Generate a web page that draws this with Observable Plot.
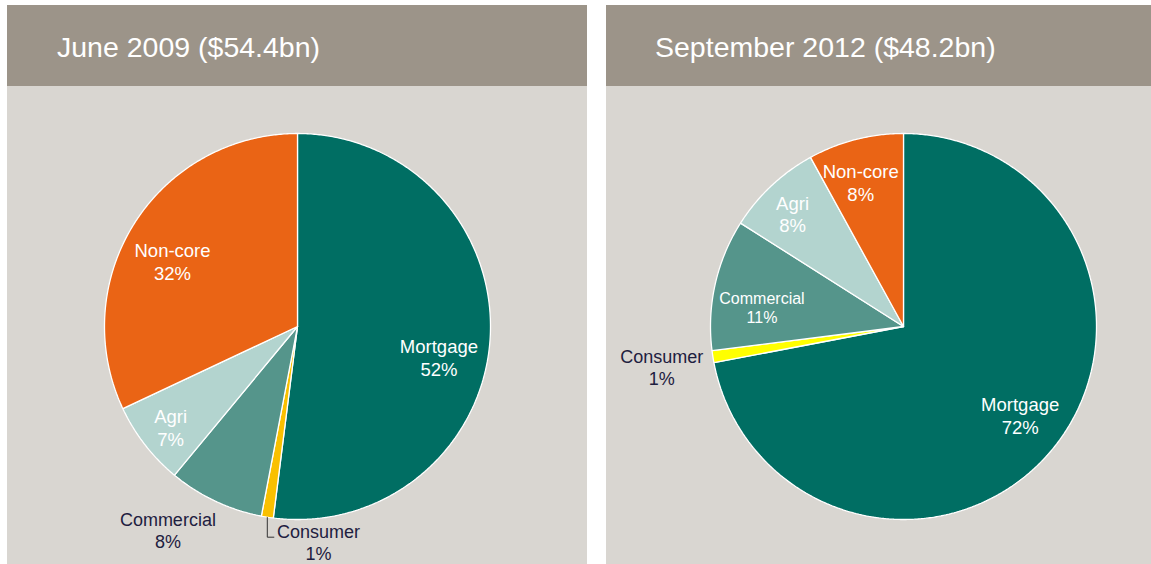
<!DOCTYPE html>
<html>
<head>
<meta charset="utf-8">
<script src="https://cdn.jsdelivr.net/npm/d3@7"></script>
<script src="https://cdn.jsdelivr.net/npm/@observablehq/plot@0.6"></script>
<style>
  html, body { margin: 0; padding: 0; background: #ffffff; }
  body { position: relative; width: 1151px; height: 564px; overflow: hidden; font-family: "Liberation Sans", Arial, sans-serif; }
  .panel { position: absolute; top: 5px; }
  .header { height: 81px; background: #9c9489; color: #ffffff; font-size: 28.5px; line-height: 84px; white-space: nowrap; }
  .body { background: #d9d6d1; height: 478px; }
  .body svg { display: block; }
</style>
</head>
<body>
<div id="p1" class="panel" style="left:7px;width:580px;">
  <div class="header" style="padding-left:50px;"></div>
  <div class="body"></div>
</div>
<div id="p2" class="panel" style="left:606px;width:545px;">
  <div class="header" style="padding-left:49px;"></div>
  <div class="body"></div>
</div>
<script>
// ---- data ----
const categories = ["Mortgage", "Consumer", "Commercial", "Agri", "Non-core"];
const june2009 = [52, 1, 8, 7, 32];
const sept2012 = [72, 1, 11, 8, 8];
const titles = ["June 2009 ($54.4bn)", "September 2012 ($48.2bn)"];

// ---- styles ----
const sliceColors2009 = ["#006e63", "#f9c000", "#55958b", "#b3d4cf", "#ea6415"];
const sliceColors2012 = ["#006e63", "#ffff00", "#55958b", "#b3d4cf", "#ea6415"];
const darkText = "#1e2040";

// label placement: angle nudge (deg) from slice middle, radius fraction, inside?, font size
const layout2009 = [
  {nudge: 8.7, rho: 0.75, inside: true, size: 18.5},
  {nudge: -14.6, rho: 1.12, inside: false, size: 18, leader: true},
  {nudge: 7.3, rho: 1.25, inside: false, size: 18},
  {nudge: -0.7, rho: 0.84, inside: true, size: 18.5},
  {nudge: -4.9, rho: 0.73, inside: true, size: 18.5}
];
const layout2012 = [
  {nudge: -2.3, rho: 0.76, inside: true, size: 18.5},
  {nudge: -0.4, rho: 1.27, inside: false, size: 18},
  {nudge: -4.9, rho: 0.74, inside: true, size: 16},
  {nudge: -1.3, rho: 0.82, inside: true, size: 18.5},
  {nudge: -2.1, rho: 0.78, inside: true, size: 18.5}
];

function pieChart(values, colors, layout, width, cx, cy, r) {
  const height = 478;
  const total = d3.sum(values);
  let acc = 0;
  const slices = values.map((v, i) => {
    const a0 = acc / total * 360;
    acc += v;
    const a1 = acc / total * 360;
    return {name: categories[i], value: v, a0, a1, mid: (a0 + a1) / 2, color: colors[i]};
  });
  const rad = d => d * Math.PI / 180;
  const pt = (deg, rho) => ({x: rho * Math.sin(rad(deg)), y: rho * Math.cos(rad(deg))});

  const marks = [];
  slices.forEach(s => {
    const pts = [{x: 0, y: 0}];
    const n = Math.max(2, Math.ceil((s.a1 - s.a0) / 0.5));
    for (let k = 0; k <= n; k++) pts.push(pt(s.a0 + (s.a1 - s.a0) * k / n, 1));
    pts.push({x: 0, y: 0});
    marks.push(Plot.line(pts, {x: "x", y: "y", fill: s.color, stroke: "#ffffff", strokeWidth: 1.3, curve: "linear", strokeLinejoin: "miter"}));
  });

  const labels = slices.map((s, i) => {
    const L = layout[i];
    const p = pt(s.mid + L.nudge, L.rho);
    return {x: p.x, y: p.y, text: s.name + "\n" + s.value + "%", fill: L.inside ? "#ffffff" : darkText, size: L.size};
  });
  labels.forEach(l => {
    marks.push(Plot.text([l], {x: "x", y: "y", text: "text", fill: l.fill, fontSize: l.size, lineHeight: 1.22, lineAnchor: "middle", textAnchor: "middle"}));
  });

  slices.forEach((s, i) => {
    if (layout[i].leader) {
      const p0 = pt(s.mid, 1);
      const lead = [p0, {x: p0.x, y: p0.y - 0.104}, {x: p0.x + 0.036, y: p0.y - 0.104}];
      marks.push(Plot.line(lead, {x: "x", y: "y", stroke: "#333333", strokeWidth: 1, curve: "linear", strokeLinejoin: "miter", strokeLinecap: "butt"}));
    }
  });

  return Plot.plot({
    width, height,
    margin: 0,
    x: {domain: [-1, 1], range: [cx - r, cx + r], axis: null},
    y: {domain: [-1, 1], range: [cy + r, cy - r], axis: null},
    style: {background: "transparent", fontFamily: "'Liberation Sans', Arial, sans-serif"},
    marks
  });
}

const p1 = document.querySelector("#p1");
p1.querySelector(".header").textContent = titles[0];
p1.querySelector(".body").appendChild(pieChart(june2009, sliceColors2009, layout2009, 580, 290, 240, 193));

const p2 = document.querySelector("#p2");
p2.querySelector(".header").textContent = titles[1];
p2.querySelector(".body").appendChild(pieChart(sept2012, sliceColors2012, layout2012, 545, 297, 240, 193));
</script>
</body>
</html>
